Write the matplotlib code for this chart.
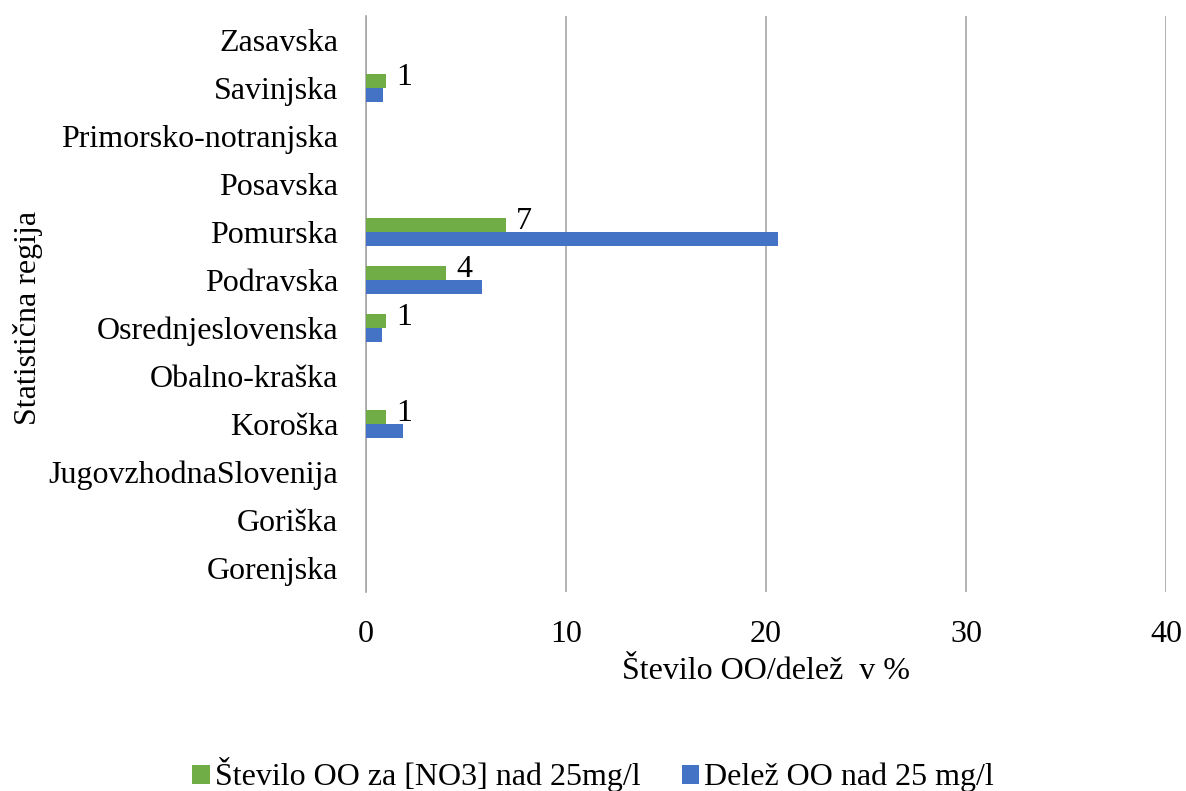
import numpy as np
import matplotlib.pyplot as plt

plt.rcParams['font.family'] = ['Liberation Serif', 'DejaVu Serif']

# Data (bottom to top)
regions = ['Gorenjska', 'Goriška', 'JugovzhodnaSlovenija', 'Koroška', 'Obalno-kraška',
           'Osrednjeslovenska', 'Podravska', 'Pomurska', 'Posavska',
           'Primorsko-notranjska', 'Savinjska', 'Zasavska']
stevilo = [0, 0, 0, 1, 0, 1, 4, 7, 0, 0, 1, 0]
delez = [0, 0, 0, 1.85, 0, 0.8, 5.8, 20.6, 0, 0, 0.85, 0]

green = '#70AD47'
blue = '#4472C4'
fs = 23

fig = plt.figure(figsize=(11.86, 7.91), dpi=100)
ax = fig.add_axes([0.3086, 0.2516, 0.6745, 0.7282])

y = np.arange(len(regions))
h = 0.29
ax.barh(y + h / 2, stevilo, height=h, color=green, label='Število OO za [NO3] nad 25mg/l', zorder=3)
ax.barh(y - h / 2, delez, height=h, color=blue, label='Delež OO nad 25 mg/l', zorder=3)

# value labels only for green series (non-zero)
for yi, v in zip(y, stevilo):
    if v:
        ax.text(v + 0.5, yi + 0.06, str(v), fontsize=fs, va='baseline', ha='left')

ax.set_xlim(0, 40)
ax.set_ylim(-0.5, len(regions) - 0.5)
ax.set_xticks([0, 10, 20, 30, 40])
ax.set_yticks(y)
ax.set_yticklabels(regions)
ax.tick_params(axis='both', length=0, labelsize=fs)
ax.tick_params(axis='x', pad=20)
ax.tick_params(axis='y', pad=20)
ax.grid(axis='x', color='#A6A6A6', linewidth=1.2, zorder=0)
for s in ['top', 'right', 'bottom']:
    ax.spines[s].set_visible(False)
ax.spines['left'].set_color('#A6A6A6')
ax.spines['left'].set_linewidth(1.2)

ax.set_xlabel('Število OO/delež  v %', fontsize=fs, labelpad=6)
fig.text(0.024, 0.598, 'Statistična regija', rotation=90, fontsize=fs, va='center', ha='center')

leg = fig.legend(loc='center', ncol=2, frameon=False,
                 fontsize=fs, handlelength=0.55, handleheight=0.55, handletextpad=0.15,
                 columnspacing=1.3)
leg.set_bbox_to_anchor((0.5, 1 - 775 / 791), transform=fig.transFigure)

fig.savefig('out.png', dpi=100)
